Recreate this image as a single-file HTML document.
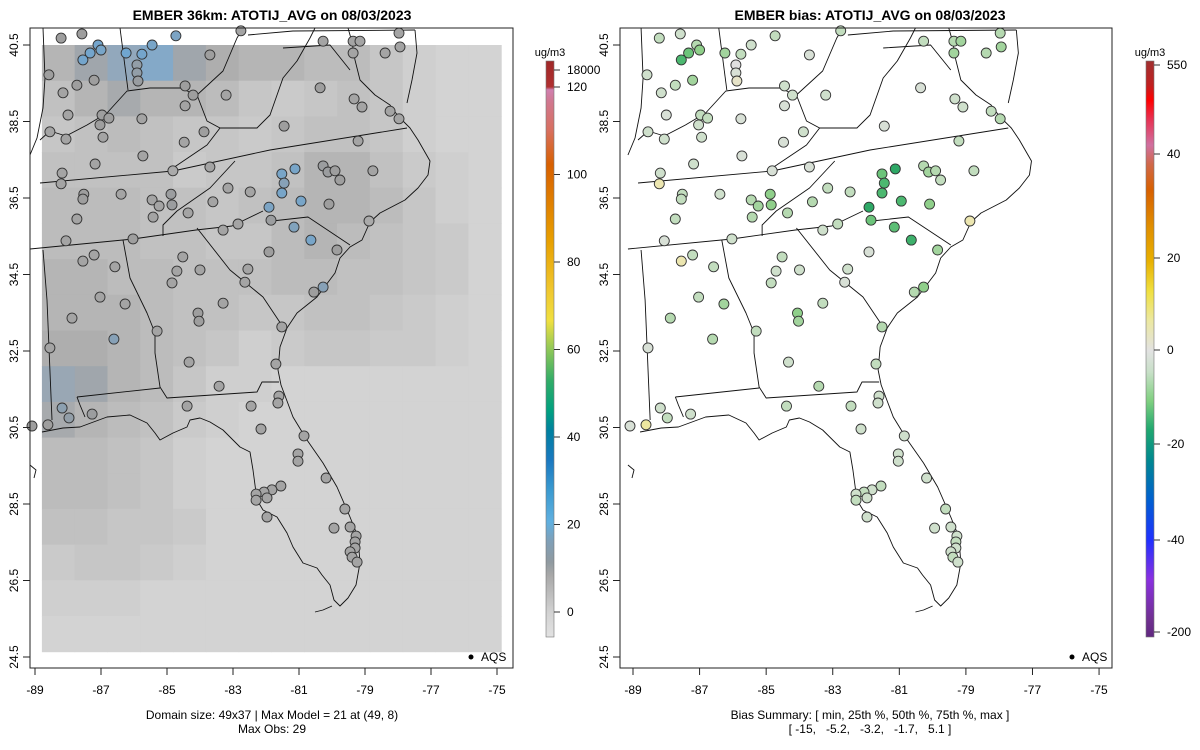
<!DOCTYPE html>
<html><head><meta charset="utf-8"><style>
html,body{margin:0;padding:0;background:#fff;}
svg{display:block;font-family:"Liberation Sans",sans-serif;}
</style></head><body>
<svg id="chart" width="1200" height="750" viewBox="0 0 1200 750">
<defs>
<linearGradient id="gradL" x1="0" y1="1" x2="0" y2="0">
<stop offset="0" stop-color="#e2e2e2"/><stop offset="0.043" stop-color="#d2d2d2"/><stop offset="0.107" stop-color="#a8a8a8"/><stop offset="0.13" stop-color="#909aa0"/><stop offset="0.167" stop-color="#7fa0b8"/><stop offset="0.2" stop-color="#60b0e0"/><stop offset="0.255" stop-color="#3a9ad0"/><stop offset="0.307" stop-color="#1a78c0"/><stop offset="0.358" stop-color="#0080a0"/><stop offset="0.392" stop-color="#00a080"/><stop offset="0.444" stop-color="#30ac68"/><stop offset="0.5" stop-color="#90c858"/><stop offset="0.549" stop-color="#f0e040"/><stop offset="0.6" stop-color="#f0c830"/><stop offset="0.687" stop-color="#e8a000"/><stop offset="0.82" stop-color="#d86000"/><stop offset="0.88" stop-color="#d87060"/><stop offset="0.93" stop-color="#d07890"/><stop offset="0.95" stop-color="#d080b0"/><stop offset="0.955" stop-color="#b03030"/><stop offset="1" stop-color="#a02828"/>
</linearGradient>
<linearGradient id="gradR" x1="0" y1="1" x2="0" y2="0">
<stop offset="0" stop-color="#602880"/><stop offset="0.03" stop-color="#703090"/><stop offset="0.1" stop-color="#8a30e0"/><stop offset="0.168" stop-color="#2030ff"/><stop offset="0.238" stop-color="#0060d0"/><stop offset="0.307" stop-color="#008890"/><stop offset="0.36" stop-color="#20a870"/><stop offset="0.41" stop-color="#80d080"/><stop offset="0.46" stop-color="#c8e0c8"/><stop offset="0.497" stop-color="#e2e2e2"/><stop offset="0.55" stop-color="#ece8a0"/><stop offset="0.6" stop-color="#f0e040"/><stop offset="0.653" stop-color="#e8b000"/><stop offset="0.71" stop-color="#e09000"/><stop offset="0.776" stop-color="#d86000"/><stop offset="0.82" stop-color="#d06848"/><stop offset="0.854" stop-color="#d070a0"/><stop offset="0.9" stop-color="#e83050"/><stop offset="0.932" stop-color="#ff0000"/><stop offset="0.958" stop-color="#c02020"/><stop offset="1" stop-color="#a03030"/>
</linearGradient>
<clipPath id="clipL"><rect x="30" y="28" width="483" height="640"/></clipPath>
<clipPath id="clipR"><rect x="620" y="28" width="492" height="640"/></clipPath>
<g id="mapLines" fill="none" stroke="#111" stroke-width="0.9" stroke-linejoin="round">
<path d="M42,432 L63,428 L80,427 L107,417 L130,415 L147,423 L155,433 L160,440 L173,433 L187,427 L190,420 L200,418 L210,422 L223,430 L240,447 L250,452 L253,470 L257,500 L263,510 L277,517 L287,533 L293,547 L303,563 L317,568 L322,575 L330,585 L334,600 L340,606 L348,598 L356,585 L360,563 L358,537 L350,517 L337,487 L323,463 L307,440 L293,417 L281,385 L278,370 L280,347 L287,328 L297,313 L317,297 L335,273 L340,258 L350,247 L362,240 L370,222 L380,213 L405,200 L418,188 L428,175 L430,161 L418,140 L410,128 L400,118"/>
<path d="M398,116 L390,105 L375,95 L360,80 L355,60 L352,42 L348,28"/>
<path d="M407,103 L412,80 L417,53 L415,30"/>
<path d="M315,612 L323,610 L332,606"/>
<path d="M40,183 L173,171 L270,150 L407,128"/>
<path d="M30,249 L133,239 L196,230 L232,226 L263,211"/>
<path d="M272,221 L308,217 L350,245"/>
<path d="M235,161 L210,188 L177,211 L163,225 L163,236"/>
<path d="M197,228 L230,270 L263,297 L283,327"/>
<path d="M40,140 L50,131 L66,136 L87,125 L107,113 L127,91 L150,88 L180,88 L197,95 L207,121 L220,128"/>
<path d="M173,168 L207,145 L220,128 L257,128 L270,115 L283,78 L297,61 L310,38 L315,28"/>
<path d="M197,95 L223,71 L237,38 L243,28"/>
<path d="M120,28 L128,90"/>
<path d="M43,28 L45,78 L43,108 L37,138 L30,155"/>
<path d="M248,35 L293,31 L415,30"/>
<path d="M283,48 L330,45 L350,70"/>
<path d="M123,240 L130,278 L147,313 L155,333 L155,353 L160,387 L167,398 L257,392 L262,382 L279,382"/>
<path d="M77,397 L160,388"/>
<path d="M77,397 L80,405 L85,417"/>
<path d="M43,250 L47,300 L52,420"/>
<path d="M30,465 L36,470 L34,478"/>
</g>
</defs>

<text x="272" y="20" text-anchor="middle" font-size="14" font-weight="bold">EMBER 36km: ATOTIJ_AVG on 08/03/2023</text>
<text x="870" y="20" text-anchor="middle" font-size="14" font-weight="bold">EMBER bias: ATOTIJ_AVG on 08/03/2023</text>

<g id="leftPanel">
  <g id="gridL" clip-path="url(#clipL)"></g>
  <use href="#mapLines" clip-path="url(#clipL)"/>
  <g id="siteL"></g>
  <rect x="30" y="28" width="483" height="640" fill="none" stroke="#222" stroke-width="1"/>
  <g id="axL"></g>
  <circle cx="471" cy="657" r="2.5" fill="#000"/>
  <text x="481" y="661" font-size="12">AQS</text>
  <text x="272" y="719" text-anchor="middle" font-size="12">Domain size: 49x37 | Max Model = 21 at (49, 8)</text>
  <text x="272" y="733" text-anchor="middle" font-size="12">Max Obs: 29</text>
</g>

<g id="rightPanel">
  <g clip-path="url(#clipR)"><use href="#mapLines" transform="translate(633,0) scale(1.0088,1) translate(-35,0)"/></g>
  <g id="siteR"></g>
  <rect x="620" y="28" width="492" height="640" fill="none" stroke="#222" stroke-width="1"/>
  <g id="axR"></g>
  <circle cx="1072" cy="657" r="2.5" fill="#000"/>
  <text x="1082" y="661" font-size="12">AQS</text>
  <text x="870" y="719" text-anchor="middle" font-size="12">Bias Summary: [ min, 25th %, 50th %, 75th %, max ]</text>
  <text x="870" y="733" text-anchor="middle" font-size="12" xml:space="preserve">[ -15,   -5.2,   -3.2,   -1.7,   5.1 ]</text>
</g>

<g>
  <text x="550" y="56" text-anchor="middle" font-size="11">ug/m3</text>
  <rect x="546" y="61" width="8" height="576" fill="url(#gradL)" stroke="#777" stroke-width="0.6"/>
  <g id="cbL"></g>
</g>
<g>
  <text x="1150" y="56" text-anchor="middle" font-size="11">ug/m3</text>
  <rect x="1146" y="61" width="8" height="576" fill="url(#gradR)" stroke="#777" stroke-width="0.6"/>
  <g id="cbR"></g>
</g>
</svg>
<script>
const xTicks = [-89, -87, -85, -83, -81, -79, -77, -75];
const yTicks = [40.5, 38.5, 36.5, 34.5, 32.5, 30.5, 28.5, 26.5, 24.5];
const concTickLabels = ["18000", "120", "100", "80", "60", "40", "20", "0"];
const concTickVals = [127, 121, 100, 80, 60, 40, 20, 0];
const biasTickLabels = ["550", "40", "20", "0", "-20", "-40", "-200"];
const biasTickVals = [65.4, 44.5, 20, 0, -20, -40, -64];
const gridRows = [
 [9,12,14,16,12,10,9,9,8,8,6,4,3,3],
 [7,9,11,9,9,8,6,5,6,7,6,4,3,3],
 [6,7,8,7,6,6,5,6,7,7,6,4,3,3],
 [7,7,7,7,5,6,6,7,9,9,7,5,4,3],
 [8,8,8,7,7,6,7,8,9,9,8,6,4,3],
 [8,8,8,7,7,6,6,8,9,8,7,6,5,3],
 [9,9,8,8,7,7,7,8,8,7,7,6,5,3],
 [9,9,9,8,7,7,6,6,7,7,6,5,4,3],
 [10,10,9,8,7,6,4,5,6,6,5,5,4,3],
 [13,12,9,8,6,4,4,3,3,3,3,3,3,3],
 [11,9,8,7,5,4,3,3,3,3,3,3,3,3],
 [8,8,7,6,4,3,3,3,3,3,3,3,3,3],
 [8,8,7,6,4,3,3,3,3,3,3,3,3,3],
 [7,7,6,6,5,3,3,3,3,3,3,3,3,3],
 [5,6,6,5,4,3,3,3,3,3,3,3,3,3],
 [4,4,4,3,3,3,3,3,3,3,3,3,3,3],
 [3,3,3,3,3,3,3,3,3,3,3,3,3,3]
];
const gridLon0 = -88.79, gridLat0 = 40.5, gridDLon = 0.994, gridDLat = 0.933;
const siteLon = [-88.21,-87.58,-84.73,-87.09,-87.33,-87.00,-87.55,-86.24,-85.76,-85.45,-85.91,-85.91,-85.88,-83.70,-88.58,-87.21,-87.73,-88.15,-84.45,-84.21,-83.21,-84.45,-88.00,-86.97,-86.76,-87.03,-85.76,-88.55,-88.06,-86.94,-84.48,-83.88,-85.73,-87.18,-88.18,-88.21,-84.82,-83.70,-87.52,-87.55,-86.39,-85.45,-85.24,-84.88,-84.85,-84.36,-83.15,-82.48,-83.61,-85.42,-87.73,-88.06,-86.03,-83.30,-82.85,-81.91,-81.85,-81.52,-81.45,-81.52,-81.12,-80.94,-80.27,-80.12,-79.91,-79.76,-80.09,-78.76,-79.21,-80.36,-81.45,-77.97,-78.24,-79.09,-79.33,-80.27,-79.36,-79.36,-79.15,-78.39,-77.94,-77.97,-82.76,-78.88,-81.15,-80.64,-79.85,-81.91,-87.55,-87.21,-86.58,-84.52,-84.70,-84.00,-82.55,-84.85,-82.64,-87.03,-86.27,-83.30,-84.06,-84.03,-87.88,-85.30,-86.61,-88.55,-84.33,-80.55,-80.27,-81.52,-81.70,-83.42,-81.61,-81.64,-84.39,-82.45,-88.18,-87.97,-87.27,-88.61,-89.09,-82.15,-80.85,-81.03,-81.03,-80.18,-81.55,-81.82,-82.06,-82.30,-82.30,-81.97,-81.97,-79.61,-79.94,-79.45,-79.27,-79.30,-79.30,-79.45,-79.39,-79.24];
const siteLat = [40.68,40.79,40.74,40.50,40.29,40.37,40.11,40.29,40.26,40.50,39.98,39.77,39.56,40.24,39.72,39.58,39.45,39.25,39.43,39.19,39.19,38.91,38.67,38.67,38.59,38.41,38.57,38.23,38.04,38.09,37.96,38.23,37.60,37.39,37.15,36.87,37.21,37.31,36.60,36.47,36.60,36.45,36.29,36.60,36.32,36.11,36.76,36.66,36.40,36.00,35.95,35.38,35.43,35.66,35.82,36.26,35.92,37.13,36.89,36.63,37.26,36.42,37.34,37.18,37.21,36.97,36.34,37.21,37.99,39.38,38.38,38.57,38.77,38.88,39.09,40.60,40.60,40.29,40.60,40.29,40.45,40.81,40.87,35.90,35.74,35.40,35.14,35.09,34.85,35.01,34.70,34.96,34.59,34.62,34.64,34.28,34.30,33.91,33.73,33.75,33.49,33.28,33.36,33.02,32.81,32.58,32.21,34.04,34.17,33.13,32.16,31.58,31.32,31.14,31.06,31.06,31.01,30.75,30.85,30.57,30.54,30.46,30.28,29.81,29.62,29.18,28.97,28.87,28.81,28.76,28.60,28.66,28.16,28.37,27.87,27.90,27.66,27.51,27.35,27.25,27.11,26.98];
const siteObs = [9,9,16,18,18,17,18,19,18,17,12,12,11,9,9,9,9,8,9,9,8,8,8,9,9,9,8,8,8,8,8,9,8,8,8,8,7,8,9,9,8,8,8,10,10,8,8,8,8,8,8,8,9,8,8,16,10,17,14,17,17,17,10,10,9,9,9,8,8,9,9,8,8,8,8,8,8,8,8,8,8,8,8,7,15,17,9,9,8,8,8,8,8,8,8,8,8,8,8,8,9,9,8,8,14,8,8,9,14,8,8,8,8,8,8,8,13,12,10,9,9,8,8,8,8,8,8,8,8,8,8,8,8,8,8,8,8,8,8,8,8,8];
const siteBias = [-3,-2,-3,-4,-8,-6,-10,-5,-3,-2,0,-1,1,-1,-2,-5,-3,-2,-2,-2,-2,-1,-1,-3,-3,-2,-1,-2,-2,-2,-1,-2,-1,-2,-2,2,-1,-1,-3,-3,-2,-4,-5,-6,-6,-4,-3,-3,-4,-4,-3,-1,-2,-2,-3,-12,-8,-8,-10,-10,-12,-10,-4,-5,-4,-3,-6,-3,-3,-1,-1,-4,-3,-2,-2,-3,-4,-5,-5,-4,-5,-4,-3,2,-9,-11,-5,-1,2,-3,-3,-3,-2,-2,-2,-3,-1,-3,-5,-3,-6,-5,-4,-3,-4,-1,-2,-4,-6,-4,-3,-4,-2,-2,-3,-3,-2,-3,-2,3,-1,-2,-2,-2,-2,-2,-3,-2,-3,-2,-3,-2,-2,-3,-2,-2,-2,-3,-2,-2,-3,-2];

const NS = 'http://www.w3.org/2000/svg';
const xL = lon => 35 + (lon + 89) * 33;
const xR = lon => 633 + (lon + 89) * 33.29;
const yS = lat => 45 + (40.5 - lat) * 38.25;
const cbLy = v => 612 - v * 4.375;
const cbRy = v => 350 - v * 4.5;
function mk(tag, attrs, parent){ const e = document.createElementNS(NS, tag); for (const k in attrs) e.setAttribute(k, attrs[k]); parent.appendChild(e); return e; }
function lerp(a,b,t){return a.map((v,i)=>Math.round(v+(b[i]-v)*t));}
function ramp(stops, v){
  if (v <= stops[0][0]) return stops[0][1];
  for (let i=1;i<stops.length;i++){ if (v <= stops[i][0]) { const t=(v-stops[i-1][0])/(stops[i][0]-stops[i-1][0]); return lerp(stops[i-1][1],stops[i][1],t);} }
  return stops[stops.length-1][1];
}
const concStops = [[3,[211,211,211]],[6,[198,198,198]],[8,[188,188,188]],[10,[174,174,174]],[12,[160,166,172]],[14,[146,168,188]],[17,[125,170,206]],[22,[100,172,220]]];
const siteStops = [[6,[176,176,176]],[9,[158,158,158]],[11,[152,156,160]],[13,[140,160,176]],[16,[124,164,196]],[19,[112,166,208]]];
const biasStops = [[-15,[30,160,100]],[-12,[46,168,102]],[-10,[76,184,112]],[-8,[108,196,122]],[-6,[143,207,138]],[-4,[181,217,176]],[-2,[207,224,204]],[0,[224,224,224]],[2,[236,230,176]],[5,[240,232,128]]];
const rgb = c => `rgb(${c[0]},${c[1]},${c[2]})`;

const gridL = document.getElementById('gridL');
mk('rect',{x:42,y:45,width:459,height:607,fill:'#d3d3d3'},gridL);
gridRows.forEach((row, r) => row.forEach((v, c) => {
  const lonA = gridLon0 + c*gridDLon, latA = gridLat0 - r*gridDLat;
  const x0 = xL(lonA), x1 = xL(lonA+gridDLon), y0 = yS(latA), y1 = Math.min(yS(latA-gridDLat), 652);
  const el = mk('rect',{x:x0.toFixed(1),y:y0.toFixed(1),width:(x1-x0+0.5).toFixed(1),height:(y1-y0+0.5).toFixed(1),fill:rgb(ramp(concStops,v))},gridL);
  
  
}));

const sL = document.getElementById('siteL'), sR = document.getElementById('siteR');
siteLon.forEach((lon, i) => {
  const a = mk('circle',{cx:xL(lon).toFixed(1),cy:yS(siteLat[i]).toFixed(1),r:5,fill:rgb(ramp(siteStops,siteObs[i])),stroke:'#333','stroke-width':0.9},sL);
  
  
  const b = mk('circle',{cx:xR(lon).toFixed(1),cy:yS(siteLat[i]).toFixed(1),r:5,fill:rgb(ramp(biasStops,siteBias[i])),stroke:'#333','stroke-width':0.9},sR);
  
  
});

function axes(g, xf, name){
  xTicks.forEach(t => {
    const x = xf(t);
    mk('line',{x1:x,y1:668,x2:x,y2:675,stroke:'#222'},g);
    const tx = mk('text',{x:x,y:694,'text-anchor':'middle','font-size':12},g); tx.textContent = t;
    
    
  });
  const x0 = name==='left' ? 30 : 620;
  yTicks.forEach(t => {
    const y = yS(t);
    mk('line',{x1:x0,y1:y,x2:x0-7,y2:y,stroke:'#222'},g);
    const tx = mk('text',{x:x0-12,y:y,'text-anchor':'middle','font-size':12,transform:`rotate(-90 ${x0-12} ${y})`},g); tx.textContent = t.toFixed(1);
    
    
  });
}
axes(document.getElementById('axL'), xL, 'left');
axes(document.getElementById('axR'), xR, 'right');

const cbL = document.getElementById('cbL');
concTickVals.forEach((v,i) => {
  const y = v===127 ? 70 : (v===121 ? 87 : cbLy(v));
  mk('line',{x1:554,y1:y,x2:560,y2:y,stroke:'#333'},cbL);
  const t = mk('text',{x:567,y:y+4,'font-size':12},cbL); t.textContent = concTickLabels[i];
  
  
});
const cbR = document.getElementById('cbR');
biasTickVals.forEach((v,i) => {
  const y = v===65.4 ? 65 : (v===44.5 ? 154 : (v===-64 ? 632 : cbRy(v) + (v<0 ? (v===-40?10:4):0) + (v===20?-2:0)));
  mk('line',{x1:1154,y1:y,x2:1160,y2:y,stroke:'#333'},cbR);
  const t = mk('text',{x:1167,y:y+4,'font-size':12},cbR); t.textContent = biasTickLabels[i];
  
  
});
</script>
</body></html>
